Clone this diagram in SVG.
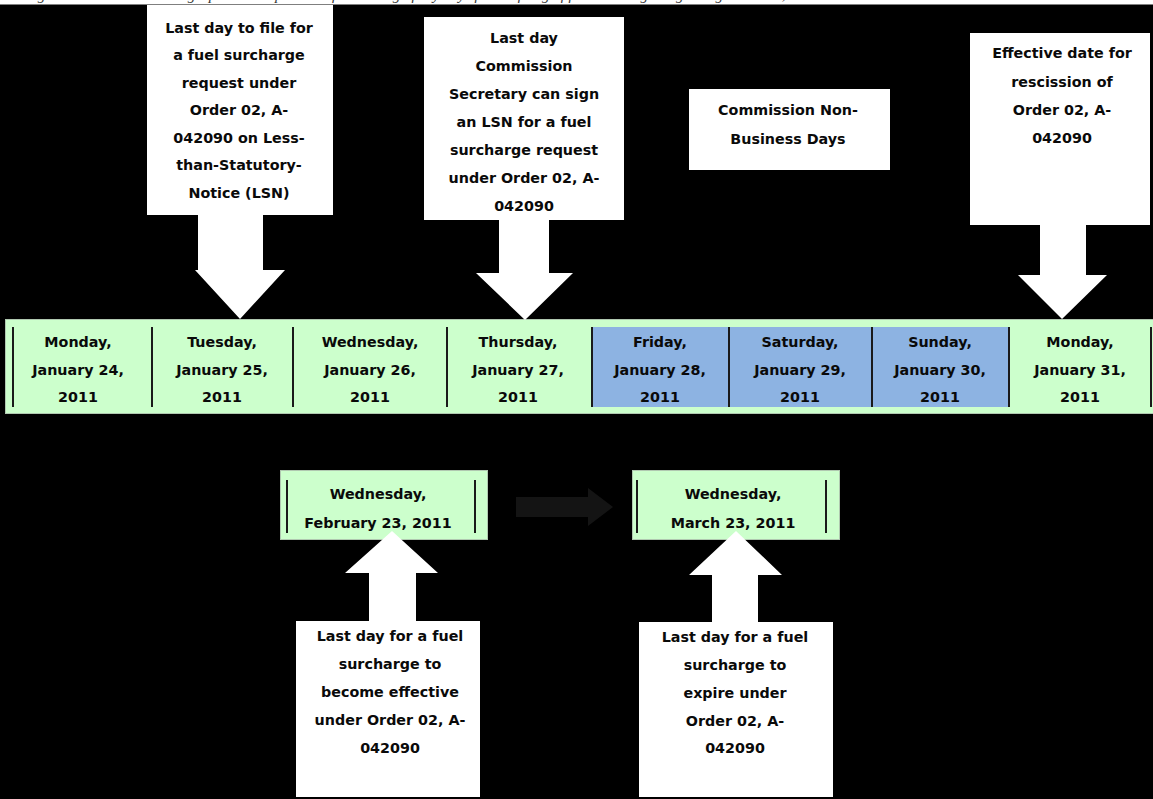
<svg xmlns="http://www.w3.org/2000/svg" width="1153" height="799" viewBox="0 0 1153 799">
<style>
  .t { font-family: "DejaVu Sans", "Liberation Sans", sans-serif; font-weight: bold; font-size: 14.3px; fill: #0a0a0a; text-anchor: middle; }
  .cap { font-family: "Liberation Serif", serif; font-style: italic; font-size: 15px; fill: #333; }
  .call { fill: #ffffff; }
  .day { fill: #ccffcc; stroke: #b0c8b0; stroke-width: 1; }
  .off { fill: #8db3e2; }
  .div { stroke: #1a1a1a; stroke-width: 2; }
</style>
<rect x="0" y="0" width="1153" height="799" fill="#ffffff"/>
<text class="cap" x="6" y="0">A diagram which illustrates a graphical comparison of the timing of key days for the filing of fuel surcharges regarding Order 02, A-042090</text>
<rect x="0" y="4.5" width="1153" height="794.5" fill="#000000"/>

<g id="timeline">
  <rect class="day" x="5.5" y="319.5" width="1148" height="94"/>
  <rect class="off" x="592" y="327" width="417" height="80"/>
  <g class="div">
    <line x1="13" y1="327" x2="13" y2="407"/>
    <line x1="152" y1="327" x2="152" y2="407"/>
    <line x1="293" y1="327" x2="293" y2="407"/>
    <line x1="447" y1="327" x2="447" y2="407"/>
    <line x1="592" y1="327" x2="592" y2="407"/>
    <line x1="729" y1="327" x2="729" y2="407"/>
    <line x1="872" y1="327" x2="872" y2="407"/>
    <line x1="1009" y1="327" x2="1009" y2="407"/>
    <line x1="1151" y1="327" x2="1151" y2="407"/>
  </g>
  <g id="d24"><text class="t" x="78" y="347">Monday,</text><text class="t" x="78" y="375">January 24,</text><text class="t" x="78" y="402">2011</text></g>
  <g id="d25"><text class="t" x="222" y="347">Tuesday,</text><text class="t" x="222" y="375">January 25,</text><text class="t" x="222" y="402">2011</text></g>
  <g id="d26"><text class="t" x="370" y="347">Wednesday,</text><text class="t" x="370" y="375">January 26,</text><text class="t" x="370" y="402">2011</text></g>
  <g id="d27"><text class="t" x="518" y="347">Thursday,</text><text class="t" x="518" y="375">January 27,</text><text class="t" x="518" y="402">2011</text></g>
  <g id="d28"><text class="t" x="660" y="347">Friday,</text><text class="t" x="660" y="375">January 28,</text><text class="t" x="660" y="402">2011</text></g>
  <g id="d29"><text class="t" x="800" y="347">Saturday,</text><text class="t" x="800" y="375">January 29,</text><text class="t" x="800" y="402">2011</text></g>
  <g id="d30"><text class="t" x="940" y="347">Sunday,</text><text class="t" x="940" y="375">January 30,</text><text class="t" x="940" y="402">2011</text></g>
  <g id="d31"><text class="t" x="1080" y="347">Monday,</text><text class="t" x="1080" y="375">January 31,</text><text class="t" x="1080" y="402">2011</text></g>
</g>

<g id="feb23">
  <rect class="day" x="280.5" y="470.5" width="207" height="69"/>
  <line class="div" x1="287" y1="480" x2="287" y2="533"/>
  <line class="div" x1="475" y1="480" x2="475" y2="533"/>
  <text class="t" x="378" y="499">Wednesday,</text>
  <text class="t" x="378" y="528">February 23, 2011</text>
</g>
<g id="mar23">
  <rect class="day" x="632.5" y="470.5" width="207" height="69"/>
  <line class="div" x1="637" y1="480" x2="637" y2="533"/>
  <line class="div" x1="826" y1="480" x2="826" y2="533"/>
  <text class="t" x="733" y="499">Wednesday,</text>
  <text class="t" x="733" y="528">March 23, 2011</text>
</g>

<g id="connectors">
  <polygon points="516,497 588,497 588,488 613,507 588,526 588,517 516,517" fill="#141414"/>
</g>

<g id="callout-file">
  <polygon class="call" points="147,5 333,5 333,215 263,215 263,270 285,270 240,319 195,270 198,270 198,215 147,215"/>
  <text class="t" x="239" y="33">Last day to file for</text>
  <text class="t" x="239" y="60">a fuel surcharge</text>
  <text class="t" x="239" y="88">request under</text>
  <text class="t" x="239" y="115">Order 02, A-</text>
  <text class="t" x="239" y="143">042090 on Less-</text>
  <text class="t" x="239" y="170">than-Statutory-</text>
  <text class="t" x="239" y="198">Notice (LSN)</text>
</g>

<g id="callout-sign">
  <polygon class="call" points="424,17 624,17 624,220 549,220 549,273 573,273 525,320 476,273 499,273 499,220 424,220"/>
  <text class="t" x="524" y="43">Last day</text>
  <text class="t" x="524" y="71">Commission</text>
  <text class="t" x="524" y="99">Secretary can sign</text>
  <text class="t" x="524" y="127">an LSN for a fuel</text>
  <text class="t" x="524" y="155">surcharge request</text>
  <text class="t" x="524" y="183">under Order 02, A-</text>
  <text class="t" x="524" y="211">042090</text>
</g>

<g id="nonbusiness">
  <rect class="call" x="689" y="89" width="201" height="81"/>
  <text class="t" x="788" y="115">Commission Non-</text>
  <text class="t" x="788" y="144">Business Days</text>
</g>

<g id="callout-rescission">
  <polygon class="call" points="970,33 1150,33 1150,225 1086,225 1086,275 1107,275 1062,319 1018,275 1040,275 1040,225 970,225"/>
  <text class="t" x="1062" y="58">Effective date for</text>
  <text class="t" x="1062" y="87">rescission of</text>
  <text class="t" x="1062" y="115">Order 02, A-</text>
  <text class="t" x="1062" y="143">042090</text>
</g>

<g id="callout-effective">
  <polygon class="call" points="392,531 438,573 416,573 416,621 480,621 480,797 296,797 296,621 369,621 369,573 345,573"/>
  <text class="t" x="390" y="641">Last day for a fuel</text>
  <text class="t" x="390" y="669">surcharge to</text>
  <text class="t" x="390" y="697">become effective</text>
  <text class="t" x="390" y="725">under Order 02, A-</text>
  <text class="t" x="390" y="753">042090</text>
</g>

<g id="callout-expire">
  <polygon class="call" points="736,531 782,575 758,575 758,622 833,622 833,797 639,797 639,622 712,622 712,575 689,575"/>
  <text class="t" x="735" y="642">Last day for a fuel</text>
  <text class="t" x="735" y="670">surcharge to</text>
  <text class="t" x="735" y="698">expire under</text>
  <text class="t" x="735" y="726">Order 02, A-</text>
  <text class="t" x="735" y="753">042090</text>
</g>
</svg>
